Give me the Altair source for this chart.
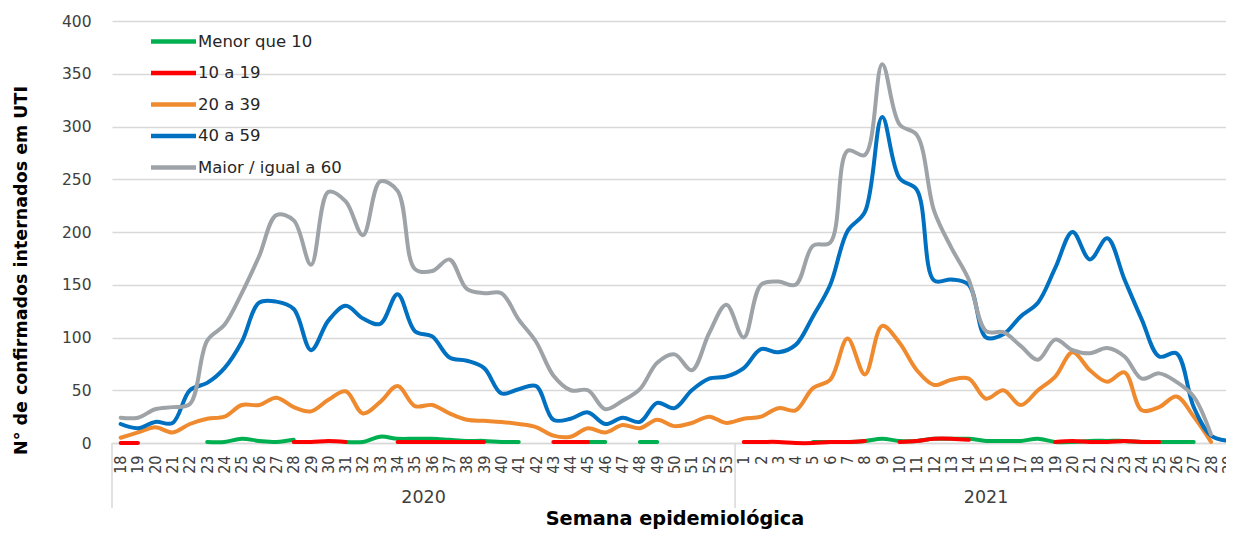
import altair as alt
import pandas as pd

# ---------------- data ----------------
years = ["2020", "2021"]
weeks_2020 = ["18", "19", "20", "21", "22", "23", "24", "25", "26", "27", "28", "29",
              "30", "31", "32", "33", "34", "35", "36", "37", "38", "39", "40", "41",
              "42", "43", "44", "45", "46", "47", "48", "49", "50", "51", "52", "53"]
weeks_2021 = ["1", "2", "3", "4", "5", "6", "7", "8", "9", "10", "11", "12", "13", "14",
              "15", "16", "17", "18", "19", "20", "21", "22", "23", "24", "25", "26",
              "27", "28", "29"]

series_names = ["Menor que 10", "10 a 19", "20 a 39", "40 a 59", "Maior / igual a 60"]
series_colors = ["#00B050", "#FF0000", "#F08A2F", "#0070C0", "#9EA3A8"]

N = None
menor_10 = [N, N, N, N, N, 1, 1, 4, 2, 1, 3, N, N, 1, 1, 6, 4, 4, 4, 3, 2, 2, 1, 1,
            N, N, N, 1, 1, N, 1, 1, N, N, N, N,
            N, N, N, N, 1, 1, 1, 2, 4, 2, 2, 4, 4, 4, 2, 2, 2, 4, 1, 1, 2, 2, 2, 1,
            1, 1, 1, N, N]
de_10_19 = [0, 0, N, N, N, N, N, N, N, N, 1, 1, 2, 1, N, N, 1, 1, 1, 1, 1, 1, N, N,
            N, 1, 1, 1, N, N, N, N, N, N, N, N,
            1, 1, 1, 0, 0, 1, 1, 2, N, 1, 2, 4, 4, 3, N, N, N, N, 1, 2, 1, 1, 2, 1,
            1, N, N, N, N]
de_20_39 = [5, 10, 15, 10, 18, 23, 25, 36, 36, 43, 34, 30, 41, 49, 28, 39, 54, 35, 36,
            28, 22, 21, 20, 18, 15, 7, 6, 14, 10, 17, 14, 22, 16, 19, 25, 19,
            23, 25, 33, 31, 52, 60, 99, 65, 111, 95, 69, 55, 60, 61, 42, 50, 36, 50,
            63, 86, 69, 58, 67, 31, 34, 44, 25, 1, N]
de_40_59 = [18, 14, 20, 19, 50, 57, 71, 96, 133, 134, 127, 88, 116, 130, 118, 113, 141,
            106, 101, 81, 78, 71, 47, 51, 54, 22, 23, 29, 18, 24, 20, 38, 33, 50, 61, 63,
            71, 89, 86, 93, 120, 150, 201, 219, 309, 251, 240, 154, 155, 150, 100, 103,
            120, 133, 166, 200, 174, 194, 155, 117, 82, 85, 34, 7, 2]
maior_60 = [24, 24, 32, 34, 37, 97, 112, 142, 177, 216, 211, 169, 238, 229, 197, 248,
            239, 165, 163, 174, 146, 142, 142, 117, 96, 64, 50, 50, 32, 40, 51, 76, 84,
            69, 104, 131,
            100, 150, 153, 150, 187, 190, 277, 273, 359, 302, 292, 220, 185, 155, 106,
            105, 92, 79, 98, 88, 85, 90, 82, 61, 66, 58, 44, 8, N]

y_ticks = [0, 50, 100, 150, 200, 250, 300, 350, 400]

# ---------------- tables ----------------
week_labels = weeks_2020 + weeks_2021
year_of = [years[0]] * len(weeks_2020) + [years[1]] * len(weeks_2021)

rows = []
for name, vals in zip(series_names, [menor_10, de_10_19, de_20_39, de_40_59, maior_60]):
    seg = 0
    gap = True
    for i, v in enumerate(vals):
        if v is None:
            gap = True
            continue
        if gap:
            seg += 1
            gap = False
        rows.append({"idx": i, "week": week_labels[i], "year": year_of[i],
                     "series": name, "value": v, "seg": f"{name}#{seg}"})
df = pd.DataFrame(rows)

n1, n2 = len(weeks_2020), len(weeks_2021)
bounds = [-0.5, n1 - 0.5, n1 + n2 - 0.5]
year_df = pd.DataFrame({"year": years,
                        "idx": [(bounds[0] + bounds[1]) / 2, (bounds[1] + bounds[2]) / 2]})
sep_df = pd.DataFrame({"idx": bounds})

label_expr = "[" + ",".join(f"'{w}'" for w in week_labels) + "][datum.value]"

W, H = 1125, 422
MAIN_FONT = "DejaVu Sans"
NARROW_FONT = "Liberation Sans Narrow, DejaVu Sans Condensed, Roboto Condensed, Liberation Sans, sans-serif"


def x_enc():
    return alt.X(
        "idx:Q",
        scale=alt.Scale(domain=[bounds[0], bounds[2]], nice=False, zero=False),
        axis=alt.Axis(
            values=list(range(len(week_labels))),
            labelExpr=label_expr,
            labelAngle=270,
            labelOverlap=False,
            labelFlush=False,
            labelFont=NARROW_FONT,
            labelFontSize=16,
            labelColor="#404040",
            labelPadding=12,
            grid=False,
            ticks=False,
            domainColor="#D9D9D9",
            domainWidth=1.5,
            title="Semana epidemiológica",
            titleFont=MAIN_FONT,
            titleFontSize=19.3,
            titleFontWeight="bold",
            titleColor="#000000",
            titlePadding=36,
        ),
    )


lines = alt.Chart(df).mark_line(
    strokeWidth=4, interpolate="catmull-rom", strokeCap="round", strokeJoin="round"
).encode(
    x=x_enc(),
    y=alt.Y(
        "value:Q",
        scale=alt.Scale(domain=[0, 400], nice=False),
        axis=alt.Axis(
            values=y_ticks,
            grid=True,
            gridColor="#D9D9D9",
            gridWidth=1.5,
            domain=False,
            ticks=False,
            labelFont=MAIN_FONT,
            labelFontSize=15.5,
            labelColor="#404040",
            labelPadding=21,
            title="N° de confirmados internados em UTI",
            titleFont=MAIN_FONT,
            titleFontSize=17.5,
            titleFontWeight="bold",
            titleColor="#000000",
            titlePadding=31,
            titleY=249,
        ),
    ),
    color=alt.Color(
        "series:N",
        scale=alt.Scale(domain=series_names, range=series_colors),
        legend=alt.Legend(
            orient="none",
            legendX=50,
            legendY=9,
            title=None,
            padding=0,
            symbolType="M-2.5,0H2.5",
            symbolSize=324,
            symbolStrokeWidth=4.5,
            labelFont=MAIN_FONT,
            labelFontSize=16.5,
            labelColor="#262626",
            labelOffset=13,
            rowPadding=10.5,
        ),
    ),
    detail="seg:N",
)

year_text = alt.Chart(year_df).mark_text(
    font=MAIN_FONT, fontSize=17.5, color="#404040", baseline="middle"
).encode(x=x_enc(), y=alt.value(H + 55), text="year:N")

separators = alt.Chart(sep_df).mark_rule(color="#D9D9D9", strokeWidth=1.5).encode(
    x=x_enc(), y=alt.value(H), y2=alt.value(H + 65)
)

chart = alt.layer(lines, separators, year_text).properties(
    width=W,
    height=H,
    autosize=alt.AutoSizeParams(type="none"),
    padding={"left": 104, "top": 13, "right": -11, "bottom": 89},
    background="white",
).configure_view(strokeWidth=0)

chart.save("out.html", embed_options={"renderer": "svg", "actions": False})
